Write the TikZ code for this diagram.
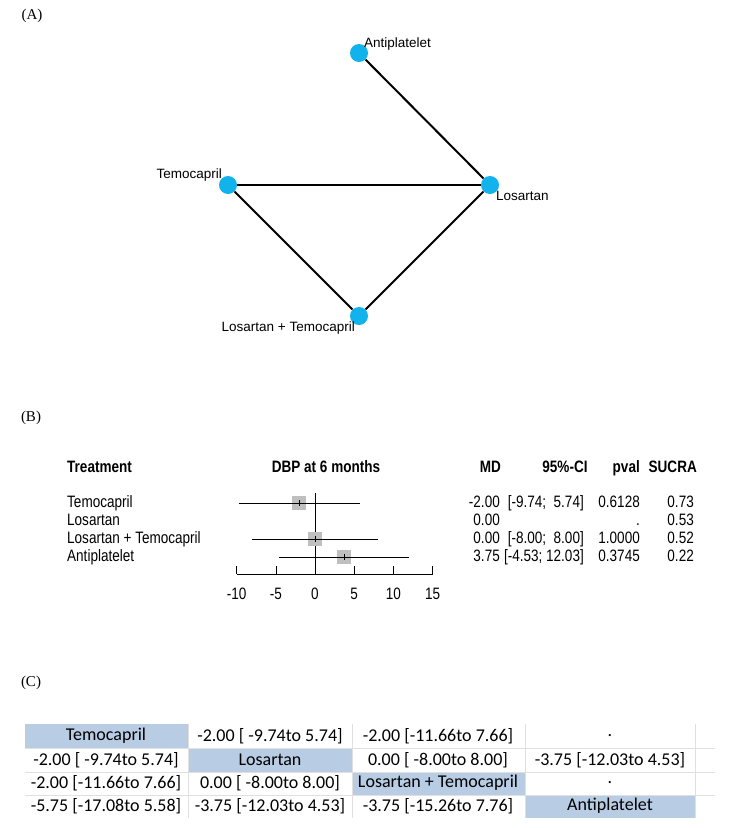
\documentclass[tikz,border=0pt]{standalone}
\usepackage{fontspec}
\setmainfont{Liberation Sans}
\newfontfamily\tabfont{Carlito}
\newfontfamily\serfont{Liberation Serif}
\newfontfamily\narrowfont[FakeStretch=0.82]{Liberation Sans}
\usetikzlibrary{positioning}
\definecolor{netblue}{RGB}{18,178,236}
\definecolor{cellblue}{RGB}{184,204,228}
\tikzstyle{trt} = [circle, fill=netblue, minimum size=18pt, inner sep=0pt]
\tikzstyle{lbl} = [font=\fontsize{13.5}{15}\selectfont, inner sep=0pt]
\tikzstyle{fp} = [font=\narrowfont\fontsize{16.5}{18}\selectfont, inner sep=0pt, text height=12pt, text depth=3pt]
\tikzstyle{hd} = [fp, font=\narrowfont\bfseries\fontsize{16.5}{18}\selectfont]
\tikzstyle{box} = [fill=black!25, minimum size=14pt, inner sep=0pt]
\tikzstyle{cell} = [font=\tabfont\fontsize{18}{20}\selectfont, inner sep=0pt]
\tikzstyle{diag} = [fill=cellblue]
\begin{document}
\begin{tikzpicture}[x=1pt, y=-1pt]
	\useasboundingbox (0,0) rectangle (734,828);
	
		% panel letters
		\node[font=\serfont\fontsize{15}{16}\selectfont] (pa) at (32,16) {(A)};
		\node[font=\serfont\fontsize{15}{16}\selectfont] (pb) at (31,418) {(B)};
		\node[font=\serfont\fontsize{15}{16}\selectfont] (pc) at (31,683) {(C)};
		
		% network
		\node (anti) [trt] at (359,53) {};
		\node (temo) [trt] at (228,185) {};
		\node (losa) [trt] at (490,185) {};
		\node (comb) [trt] at (359,316) {};
		\draw [line width=2pt] (anti) -- (losa);
		\draw [line width=2pt] (temo) -- (losa);
		\draw [line width=2pt] (temo) -- (comb);
		\draw [line width=2pt] (losa) -- (comb);
		\node (antil) [lbl, anchor=south west] at (364,50) {Antiplatelet};
		\node (temol) [lbl, anchor=south east] at (222,181) {Temocapril};
		\node (losal) [lbl, anchor=north west] at (496,191) {Losartan};
		\node (combl) [lbl, anchor=north east] at (355,322) {Losartan + Temocapril};
		
		% forest plot headers
		\node (htrt) [hd, anchor=west] at (67,468) {Treatment};
		\node (hdbp) [hd] at (326,468) {DBP at 6 months};
		\node (hmd) [hd, anchor=east] at (501,468) {MD};
		\node (hci) [hd] at (565,468) {95\%-CI};
		\node (hp) [hd, anchor=east] at (640,468) {pval};
		\node (hs) [hd, anchor=east] at (697,468) {SUCRA};
		
		% forest plot rows
		\foreach \y/\name/\md/\ci/\p/\s in {503/Temocapril/-2.00/{[-9.74;\ \ 5.74]}/0.6128/0.73,
			521/Losartan/0.00/{}/./0.53,
			539/Losartan + Temocapril/0.00/{[-8.00;\ \ 8.00]}/1.0000/0.52,
			557/Antiplatelet/3.75/{[-4.53; 12.03]}/0.3745/0.22}{
			\node[fp, anchor=west] at (67,\y) {\name};
			\node[fp, anchor=east] at (500,\y) {\md};
			\node[fp, anchor=east] at (584,\y) {\ci};
			\node[fp, anchor=east] at (640,\y) {\p};
			\node[fp, anchor=east] at (694,\y) {\s};
		}
		\draw (315,493) -- (315,567);
		\foreach \lo/\est/\hi/\y in {-9.74/-2/5.74/503, -8/0/8/539, -4.53/3.75/12.03/557}{
			\node[box] at ({315+7.84*\est},\y) {};
			\draw ({315+7.84*\lo},\y) -- ({315+7.84*\hi},\y);
			\draw ({315+7.84*\est},{\y-3}) -- ({315+7.84*\est},{\y+3});
		}
		\draw (237,574) -- (433,574);
		\foreach \t in {-10,-5,0,5,10,15}{
			\draw ({315+7.84*\t},566) -- ({315+7.84*\t},574);
			\node[fp] at ({315+7.84*\t},595) {\t};
		}
		
		% league table
		\fill[diag] (25,724) rectangle (188,748);
		\fill[diag] (188,748) rectangle (352,772);
		\fill[diag] (352,772) rectangle (525,795);
		\fill[diag] (525,795) rectangle (695,818);
		\draw[black!12] (25,748) -- (715,748) (25,772) -- (715,772) (25,795) -- (715,795);
		\draw[black!12] (188,724) -- (188,818) (352,724) -- (352,818) (525,724) -- (525,818) (695,724) -- (695,818);
		\foreach \row/\y in {{{Temocapril},{-2.00 [ -9.74to 5.74]},{-2.00 [-11.66to 7.66]},{.}}/736,
			{{-2.00 [ -9.74to 5.74]},{Losartan},{0.00 [ -8.00to 8.00]},{-3.75 [-12.03to 4.53]}}/760,
			{{-2.00 [-11.66to 7.66]},{0.00 [ -8.00to 8.00]},{Losartan + Temocapril},{.}}/783,
			{{-5.75 [-17.08to 5.58]},{-3.75 [-12.03to 4.53]},{-3.75 [-15.26to 7.76]},{Antiplatelet}}/806}{
			\foreach \txt [count=\c] in \row{
				\pgfmathsetmacro{\cx}{{"dummy",106,270,438,610}[\c]}
				\node[cell] at (\cx,\y) {\txt};
			}
		}
	
	\end{tikzpicture}
\end{document}
